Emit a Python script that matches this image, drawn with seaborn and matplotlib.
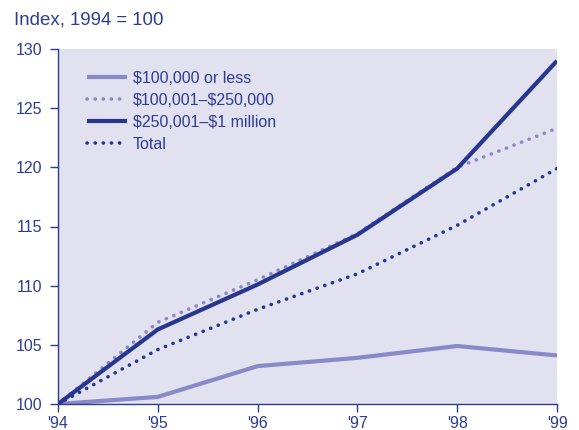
import seaborn as sns
import matplotlib.pyplot as plt
import pandas as pd

# data
years = [1994, 1995, 1996, 1997, 1998, 1999]
year_labels = ["'94", "'95", "'96", "'97", "'98", "'99"]
less_100k = [100, 100.6, 103.2, 103.9, 104.9, 104.1]
mid_250k = [100, 106.9, 110.5, 114.4, 120.0, 123.3]
top_1m = [100, 106.3, 110.1, 114.3, 119.9, 129.0]
total = [100, 104.6, 108.0, 111.0, 115.1, 119.9]

sns.set_style('white')
plt.rcParams['font.family'] = ['Liberation Sans', 'DejaVu Sans']

light = '#8a88c8'
dark = '#27378f'
text_c = '#2e3c94'
dot = (0, (0.05, 2.2))

fig = plt.figure(figsize=(5.79, 4.30), dpi=100)
ax = fig.add_axes([58 / 579, 1 - 404 / 430, 499 / 579, 355 / 430])
ax.set_facecolor('#e1e1ef')

series = [
    (r'\$100,000 or less', less_100k, light, '-', 3.0),
    ('\\$100,001\u2013\\$250,000', mid_250k, light, dot, 2.6),
    ('\\$250,001\u2013\\$1 million', top_1m, dark, '-', 3.0),
    ('Total', total, dark, dot, 2.6),
]
for name, vals, col, ls, lw in series:
    df = pd.DataFrame({'year': years, 'v': vals})
    sns.lineplot(data=df, x='year', y='v', ax=ax, color=col, linestyle=ls,
                 linewidth=lw, label=name, solid_capstyle='butt',
                 dash_capstyle='round')

ax.set_xlim(1994, 1999)
ax.set_ylim(100, 130)
ax.set_xticks(years)
ax.set_xticklabels(year_labels)
ax.set_yticks(range(100, 131, 5))
ax.set_xlabel('')
ax.set_ylabel('')

for s in ['top', 'right']:
    ax.spines[s].set_visible(False)
for s in ['left', 'bottom']:
    ax.spines[s].set_color(text_c)
    ax.spines[s].set_linewidth(1.0)
ax.tick_params(axis='both', colors=text_c, labelcolor=text_c, labelsize=11.5,
               length=6, width=1.0, direction='out', left=True, bottom=True)
ax.tick_params(axis='y', pad=5.5)
ax.tick_params(axis='x', pad=3)

leg = ax.legend(loc='upper left', bbox_to_anchor=(87 / 579, 1 - 71 / 430),
                bbox_transform=fig.transFigure, frameon=False,
                fontsize=11.5, handlelength=2.5, handletextpad=0.37,
                labelspacing=0.43, borderaxespad=0, borderpad=0)
for t in leg.get_texts():
    t.set_color(text_c)

fig.text(14 / 579, 1 - 20 / 430, 'Index, 1994 = 100', color=text_c,
         fontsize=13.4, va='center', ha='left')

plt.savefig('out.png', dpi=100)
